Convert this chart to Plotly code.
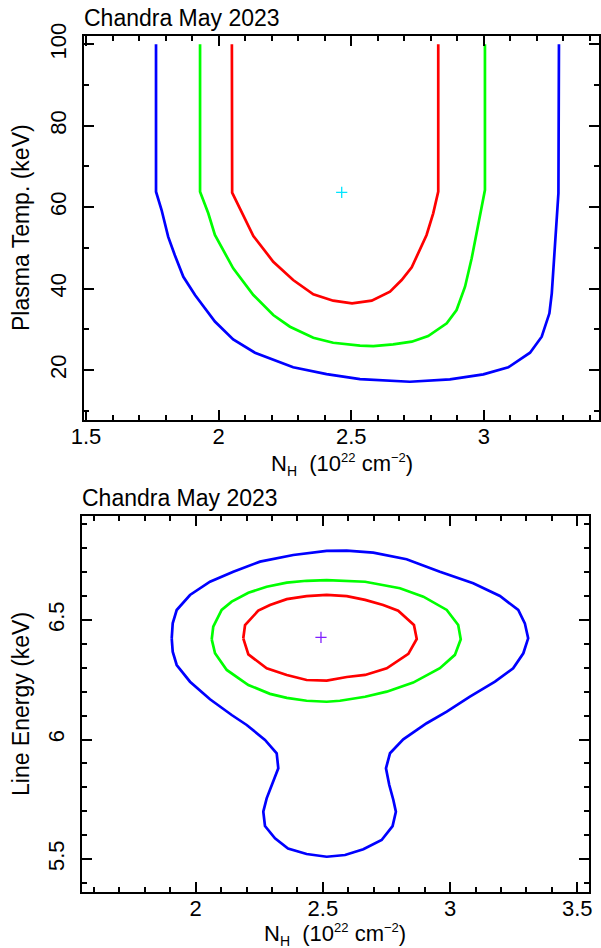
import plotly.graph_objects as go

W, H = 601, 948
FONT = "Liberation Sans, Arial, Helvetica, sans-serif"

# ---------------- Top panel: NH vs Plasma temperature ----------------
top_title = "Chandra May 2023"
top_xtitle = ("N<sub><span style='font-size:14px'>H</span></sub>\u00a0\u00a0(10"
              "<sup><span style='font-size:13px'>22</span></sup>\u00a0cm"
              "<sup><span style='font-size:13px'>\u22122</span></sup>)")
top_ytitle = "Plasma Temp. (keV)"

top_blue_x = [1.764, 1.764, 1.785, 1.810, 1.835, 1.867, 1.911, 1.986, 2.055, 2.137, 2.281, 2.407,
              2.533, 2.721, 2.872, 2.998, 3.092, 3.174, 3.218, 3.247, 3.256, 3.268, 3.281, 3.283]
top_blue_y = [100, 63.8, 59.3, 52.7, 48.2, 42.9, 38.4, 31.9, 27.5, 24.25, 20.66, 19.0,
              17.78, 17.12, 17.71, 18.94, 20.66, 24.25, 28.17, 33.92, 38.84, 50.28, 63.4, 100]

top_green_x = [1.930, 1.930, 1.961, 1.986, 2.055, 2.131, 2.206, 2.269, 2.357, 2.432, 2.533, 2.583,
               2.658, 2.728, 2.790, 2.860, 2.897, 2.929, 2.954, 2.973, 2.992, 3.004, 3.004]
top_green_y = [100, 63.8, 58.49, 53.16, 44.98, 38.42, 33.5, 30.63, 27.93, 26.7, 25.97, 25.89,
               26.31, 26.95, 28.35, 31.47, 34.73, 40.46, 47.43, 53.57, 60.11, 64.2, 100]

top_red_x = [2.050, 2.051, 2.080, 2.106, 2.131, 2.206, 2.281, 2.357, 2.432, 2.503, 2.577, 2.646,
             2.690, 2.728, 2.759, 2.784, 2.809, 2.828, 2.828]
top_red_y = [100, 63.55, 59.72, 56.42, 52.91, 46.6, 42.1, 38.59, 37.02, 36.38, 37.02, 39.23,
             42.1, 45.22, 49.47, 53.16, 58.49, 63.8, 100]

top_best = ([2.464], [63.65])

# ---------------- Bottom panel: NH vs Line energy ----------------
bot_title = "Chandra May 2023"
bot_xtitle = top_xtitle
bot_ytitle = "Line Energy (keV)"

bot_red_x = [2.187, 2.194, 2.246, 2.292, 2.358, 2.436, 2.515, 2.594, 2.666, 2.737, 2.796, 2.836,
             2.858, 2.869, 2.836, 2.751, 2.666, 2.594, 2.515, 2.436, 2.358, 2.279, 2.207, 2.187]
bot_red_y = [6.4234, 6.479, 6.539, 6.563, 6.587, 6.600, 6.605, 6.600, 6.584, 6.563, 6.539, 6.500,
             6.479, 6.4205, 6.358, 6.298, 6.270, 6.2615, 6.246, 6.249, 6.270, 6.298, 6.356, 6.4234]

bot_green_x = [2.063, 2.069, 2.102, 2.1415, 2.207, 2.279, 2.358, 2.436, 2.515, 2.594, 2.666, 2.803,
               2.895, 2.987, 3.032, 3.042, 3.019, 2.960, 2.855, 2.751, 2.666, 2.567, 2.515, 2.436,
               2.358, 2.292, 2.207, 2.122, 2.076, 2.063]
bot_green_y = [6.419, 6.472, 6.542, 6.5766, 6.614, 6.639, 6.656, 6.664, 6.667, 6.664, 6.660, 6.633,
               6.5975, 6.542, 6.479, 6.419, 6.354, 6.298, 6.238, 6.200, 6.179, 6.162, 6.158, 6.162,
               6.174, 6.191, 6.228, 6.291, 6.361, 6.419]

bot_blue_x = [1.9057, 1.9096, 1.9253, 1.9776, 2.0562, 2.1478, 2.2528, 2.3836, 2.515, 2.5936, 2.698,
              2.829, 2.960, 3.091, 3.196, 3.268, 3.294, 3.307, 3.288, 3.248, 3.1765, 3.078, 2.987,
              2.908, 2.816, 2.7638, 2.748, 2.761, 2.777, 2.787, 2.774, 2.731, 2.659, 2.587, 2.515,
              2.436, 2.363, 2.3117, 2.2724, 2.2657, 2.279, 2.305, 2.3247, 2.3184, 2.2724, 2.2005,
              2.1415, 2.0562, 1.9776, 1.9253, 1.9096, 1.9057]
bot_blue_y = [6.4234, 6.486, 6.5418, 6.6046, 6.660, 6.702, 6.744, 6.772, 6.7887, 6.790, 6.7816,
              6.754, 6.702, 6.6536, 6.6004, 6.5418, 6.486, 6.4234, 6.3607, 6.298, 6.2418, 6.179, 6.1163,
              6.068, 6.0008, 5.9423, 5.8795, 5.8096, 5.7469, 5.698, 5.638, 5.5795, 5.5406, 5.5167, 5.5096,
              5.5209, 5.544, 5.5866, 5.638, 5.698, 5.754, 5.8305, 5.8795, 5.9423, 5.998, 6.0607,
              6.1025, 6.1682, 6.2418, 6.3117, 6.3674, 6.4234]

bot_best = ([2.4925], [6.4276])

# ---------------- Figure ----------------
def px_x(p):
    return p / W

def px_y(p):
    return 1 - p / H

fig = go.Figure()
LW = 2.7

def line(x, y, color, xa, ya):
    fig.add_trace(go.Scatter(x=x, y=y, mode="lines", line=dict(color=color, width=LW),
                             xaxis=xa, yaxis=ya, showlegend=False, hoverinfo="skip"))

line(top_blue_x, top_blue_y, "#0000ff", "x", "y")
line(top_green_x, top_green_y, "#00ff00", "x", "y")
line(top_red_x, top_red_y, "#ff0000", "x", "y")
fig.add_trace(go.Scatter(x=top_best[0], y=top_best[1], mode="markers", xaxis="x", yaxis="y",
                         marker=dict(symbol="cross-thin", size=8, line=dict(color="#00e5ff", width=1.3)),
                         showlegend=False))

line(bot_blue_x, bot_blue_y, "#0000ff", "x2", "y2")
line(bot_green_x, bot_green_y, "#00ff00", "x2", "y2")
line(bot_red_x, bot_red_y, "#ff0000", "x2", "y2")
fig.add_trace(go.Scatter(x=bot_best[0], y=bot_best[1], mode="markers", xaxis="x2", yaxis="y2",
                         marker=dict(symbol="cross-thin", size=8, line=dict(color="#8020ff", width=1.3)),
                         showlegend=False))

TICKFONT = dict(family=FONT, size=22, color="black")

def axis_style(rng, dtick, mdtick, domain, anchor, is_y=False):
    d = dict(range=rng, dtick=dtick, tick0=0, domain=domain, anchor=anchor,
             showgrid=False, zeroline=False, showline=True, linecolor="black", linewidth=1.6,
             mirror="ticks", ticks="inside", ticklen=10, tickwidth=1.5, tickcolor="black",
             tickfont=TICKFONT, automargin=False,
             minor=dict(ticks="inside", ticklen=5, tickwidth=1.5, tickcolor="black",
                        dtick=mdtick, tick0=0, showgrid=False))
    if is_y:
        d["tickangle"] = -90
        d["ticklabelstandoff"] = 7
    else:
        d["ticklabelstandoff"] = -4
    return d

fig.update_layout(
    width=W, height=H,
    margin=dict(l=0, r=0, t=0, b=0),
    paper_bgcolor="white", plot_bgcolor="white",
    font=dict(family=FONT, color="black"),
    xaxis=axis_style([1.4925, 3.434], 0.5, 0.1, [px_x(84), px_x(599)], "y"),
    yaxis=axis_style([7.72, 102.04], 20, 10, [px_y(420), px_y(36)], "x", True),
    xaxis2=axis_style([1.553, 3.545], 0.5, 0.1, [px_x(82), px_x(588.7)], "y2"),
    yaxis2=axis_style([5.362, 6.935], 0.5, 0.1, [px_y(892), px_y(516)], "x2", True),
)

ann = []
TF = dict(family=FONT, size=23, color="black")
XF = dict(family=FONT, size=22, color="black")
ann.append(dict(text=top_title, x=px_x(82), y=px_y(18), xanchor="left", yanchor="middle", font=TF))
ann.append(dict(text=bot_title, x=px_x(80), y=px_y(498), xanchor="left", yanchor="middle", font=TF))
ann.append(dict(text=top_xtitle, x=px_x(341.5), y=px_y(465), xanchor="center", yanchor="middle", font=XF))
ann.append(dict(text=bot_xtitle, x=px_x(335.3), y=px_y(934), xanchor="center", yanchor="middle", font=XF))
ann.append(dict(text=top_ytitle, x=px_x(21), y=px_y(228), xanchor="center", yanchor="middle",
                textangle=-90, font=TF))
ann.append(dict(text=bot_ytitle, x=px_x(21), y=px_y(704), xanchor="center", yanchor="middle",
                textangle=-90, font=TF))
for a in ann:
    a.update(xref="paper", yref="paper", showarrow=False)
fig.update_layout(annotations=ann)

fig.write_html("out.html")
